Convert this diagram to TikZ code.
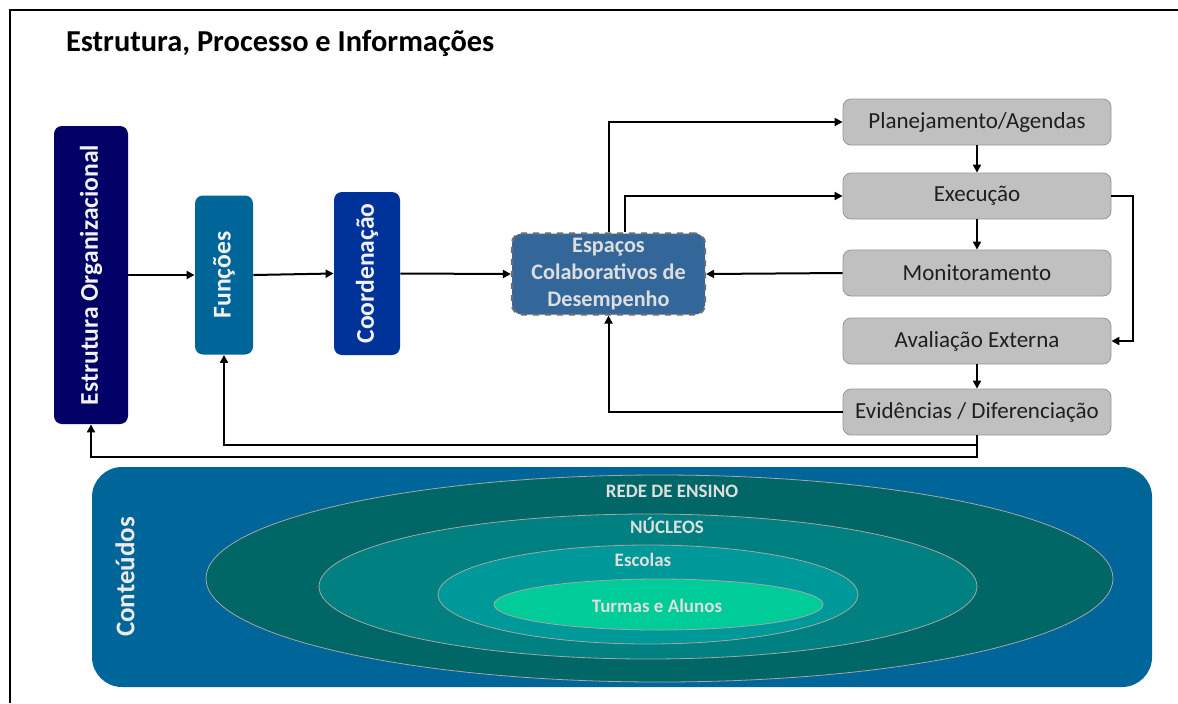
\documentclass[tikz,border=0pt]{standalone}
\usepackage{fontspec}
\setmainfont{Carlito}
\usetikzlibrary{positioning}
\usetikzlibrary{arrows.meta}
\usetikzlibrary{shapes.geometric}
\definecolor{navy}{RGB}{0,0,102}
\definecolor{petrol}{RGB}{0,102,153}
\definecolor{royal}{RGB}{0,51,153}
\definecolor{steel}{RGB}{51,102,153}
\definecolor{boxgray}{RGB}{192,192,192}
\definecolor{boxedge}{RGB}{150,150,150}
\definecolor{tealA}{RGB}{0,102,102}
\definecolor{tealB}{RGB}{0,128,128}
\definecolor{tealC}{RGB}{0,153,153}
\definecolor{tealD}{RGB}{0,204,153}
\definecolor{softtext}{RGB}{222,222,222}
\tikzset{
  colbox/.style={rounded corners=4pt, inner sep=0pt, text=white!95!black, font=\bfseries\fontsize{12.8}{15}\selectfont},
  graybox/.style={draw=boxedge, fill=boxgray, rounded corners=4pt, minimum width=134pt, minimum height=23pt, inner sep=0pt, text=black!88, font=\fontsize{11.5}{14}\selectfont},
  ringlabel/.style={text=softtext, font=\bfseries\fontsize{9.5}{11}\selectfont},
  arr/.style={-{Triangle[length=4pt,width=4pt]}, line width=1pt},
}
\begin{document}
\begin{tikzpicture}[x=0.5pt, y=-0.5pt]
    \useasboundingbox (0,0) rectangle (1178,703);

    % Frame and title
    \draw[line width=1.2pt] (10,703) -- (10,10) -- (1178,10);
    \node[anchor=west, font=\bfseries\fontsize{15.2}{18}\selectfont] (title) at (59,43) {Estrutura, Processo e Informações};

    % Structure column
    \node[colbox, fill=navy, minimum width=37pt, minimum height=149pt] (estrutura) at (91,275) {\rotatebox{90}{Estrutura Organizacional}};
    \node[colbox, fill=petrol, minimum width=29pt, minimum height=79.5pt] (funcoes) at (224,275) {\rotatebox{90}{Funções}};
    \node[colbox, fill=royal, minimum width=33pt, minimum height=81.5pt] (coord) at (367,273.5) {\rotatebox{90}{Coordenação}};
    \node[fill=steel, draw=gray!85!black, dashed, line width=1.1pt, rounded corners=5pt, minimum width=96.5pt, minimum height=40.5pt, inner sep=0pt, align=center, text=softtext, font=\bfseries\fontsize{11.1}{13.7}\selectfont] (espacos) at (608.5,274) {Espaços\\Colaborativos de\\Desempenho};

    % Process column
    \foreach \n/\y/\t in {plan/122/{Planejamento/Agendas}, exec/196/{Execução}, monit/273/{Monitoramento}, aval/341/{Avaliação Externa}, evid/412/{Evidências / Diferenciação}} {
        \node[graybox] (\n) at (977,\y) {\t};
    }

    % Connectors
    \draw[arr] (estrutura.east) -- (funcoes.west);
    \draw[arr] (funcoes.east) -- (coord.west);
    \draw[arr] (coord.east) -- (espacos.west);
    \draw[arr] (espacos.north) |- (plan.west);
    \draw[arr] ([xshift=8pt]espacos.north) |- (exec.west);
    \draw[arr] (monit.west) -- (espacos.east);
    \draw[arr] (evid.west) -| (espacos.south);
    \draw[arr] (plan) -- (exec);
    \draw[arr] (exec) -- (monit);
    \draw[arr] (aval) -- (evid);
    \draw[arr] (exec.east) -- ++(11pt,0) |- (aval.east);
    \draw[arr] ([yshift=-5pt]evid.south) -| (funcoes.south);
    \draw[arr] (evid.south) -- ++(0,-11pt) -| (estrutura.south);

    % Contents panel
    \node[fill=petrol, rounded corners=15pt, minimum width=530pt, minimum height=110pt, inner sep=0pt] (panel) at (622,577) {};
    \node[text=white!92!black, font=\bfseries\fontsize{13.5}{16}\selectfont] (conteudos) at (125,577) {\rotatebox{90}{Conteúdos}};
    \filldraw[fill=tealA, draw=gray!70, line width=0.4pt] (659.5,578.5) ellipse [x radius=226.75pt, y radius=51.75pt];
    \filldraw[fill=tealB, draw=gray!70, line width=0.4pt] (648,586.5) ellipse [x radius=164.5pt, y radius=36.25pt];
    \filldraw[fill=tealC, draw=gray!70, line width=0.4pt] (648,594.5) ellipse [x radius=105pt, y radius=24.75pt];
    \filldraw[fill=tealD, draw=gray!70, line width=0.4pt] (658.5,604.5) ellipse [x radius=82.25pt, y radius=12.75pt];
    \node[ringlabel] (rede) at (672,491) {REDE DE ENSINO};
    \node[ringlabel] (nucleos) at (667,526) {NÚCLEOS};
    \node[ringlabel] (escolas) at (643,560) {Escolas};
    \node[ringlabel] (turmas) at (657,606) {Turmas e Alunos};
\end{tikzpicture}
\end{document}
